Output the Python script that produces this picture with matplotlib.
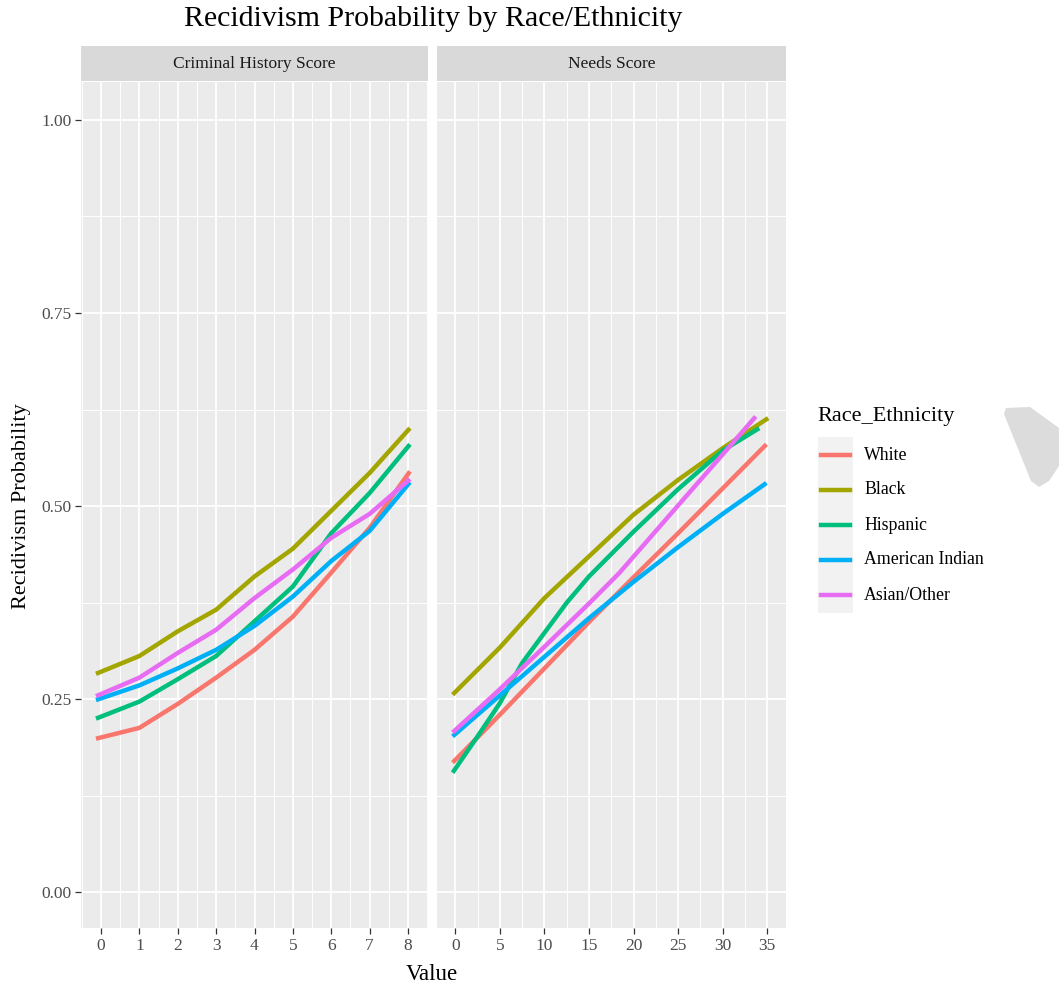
import matplotlib
matplotlib.use("Agg")
import matplotlib.pyplot as plt
from matplotlib.patches import Rectangle, Polygon
from matplotlib.lines import Line2D
from matplotlib.ticker import MultipleLocator, FormatStrFormatter

plt.rcParams['font.family'] = ['Liberation Serif', 'DejaVu Serif']

groups = ["White", "Black", "Hispanic", "American Indian", "Asian/Other"]
colors = ["#F8766D", "#A3A500", "#00BF7D", "#00B0F6", "#E76BF3"]

# criminal history score panel
crim_x = [-0.13, 1, 2, 3, 4, 5, 6, 7, 8.05]
crim_prob = {
    "White":           [0.199, 0.213, 0.244, 0.278, 0.314, 0.357, 0.414, 0.472, 0.545],
    "Black":           [0.283, 0.306, 0.338, 0.366, 0.409, 0.445, 0.494, 0.543, 0.601],
    "Hispanic":        [0.225, 0.247, 0.276, 0.306, 0.351, 0.396, 0.465, 0.517, 0.580],
    "American Indian": [0.249, 0.268, 0.290, 0.314, 0.345, 0.383, 0.429, 0.468, 0.531],
    "Asian/Other":     [0.254, 0.278, 0.310, 0.340, 0.381, 0.418, 0.459, 0.490, 0.535],
}

# needs score panel
needs_x = {
    "White":           [-0.3, 5, 10, 15, 20, 25, 30, 34.9],
    "Black":           [-0.3, 5, 10, 15, 20, 25, 30, 35.1],
    "Hispanic":        [-0.3, 2.5, 5, 7.5, 10, 12.5, 15, 20, 25, 30, 34.1],
    "American Indian": [-0.3, 5, 10, 15, 20, 25, 30, 34.9],
    "Asian/Other":     [-0.3, 5, 10, 15, 18.4, 25, 30, 33.7],
}
needs_prob = {
    "White":           [0.168, 0.230, 0.290, 0.350, 0.408, 0.465, 0.523, 0.580],
    "Black":           [0.256, 0.317, 0.381, 0.435, 0.489, 0.534, 0.575, 0.614],
    "Hispanic":        [0.155, 0.202, 0.245, 0.297, 0.336, 0.375, 0.409, 0.467, 0.522, 0.572, 0.601],
    "American Indian": [0.202, 0.255, 0.305, 0.355, 0.402, 0.447, 0.490, 0.530],
    "Asian/Other":     [0.207, 0.263, 0.318, 0.374, 0.4135, 0.501, 0.567, 0.616],
}

W, H = 1059, 991
fig = plt.figure(figsize=(W / 100, H / 100), dpi=100)


def px_axes(x0, y0, x1, y1):
    # axes from pixel box (top-left origin)
    return fig.add_axes([x0 / W, 1 - y1 / H, (x1 - x0) / W, (y1 - y0) / H])


def style_panel(ax):
    ax.set_facecolor("#EBEBEB")
    for s in ax.spines.values():
        s.set_visible(False)
    ax.set_ylim(-0.046, 1.049)
    ax.yaxis.set_major_locator(MultipleLocator(0.25))
    ax.yaxis.set_minor_locator(MultipleLocator(0.125))
    ax.grid(which="major", color="white", lw=1.3)
    ax.grid(which="minor", color="white", lw=0.7)
    ax.set_axisbelow(True)
    ax.tick_params(which="major", length=4, width=0.9, color="#333333",
                   labelcolor="#4D4D4D", labelsize=12.5, pad=3)
    ax.tick_params(which="minor", length=0)


def strip(x0, x1, label):
    s = px_axes(x0, 46, x1, 81)
    s.set_facecolor("#D9D9D9")
    s.set_xticks([])
    s.set_yticks([])
    for sp in s.spines.values():
        sp.set_visible(False)
    s.text(0.5, 0.5, label, ha="center", va="center", fontsize=12.5, color="#1A1A1A",
           transform=s.transAxes)


ax1 = px_axes(81, 82, 428, 928)
ax2 = px_axes(437, 82, 786, 928)
style_panel(ax1)
style_panel(ax2)

ax1.set_xlim(-0.52, 8.52)
ax1.xaxis.set_major_locator(MultipleLocator(1))
ax1.xaxis.set_minor_locator(MultipleLocator(0.5))
ax2.set_xlim(-2.05, 37.1)
ax2.xaxis.set_major_locator(MultipleLocator(5))
ax2.xaxis.set_minor_locator(MultipleLocator(2.5))
ax2.tick_params(axis="y", which="both", left=False, labelleft=False)
ax1.yaxis.set_major_formatter(FormatStrFormatter("%.2f"))

for g, c in zip(groups, colors):
    ax1.plot(crim_x, crim_prob[g], color=c, lw=3.2, solid_capstyle="butt")
    ax2.plot(needs_x[g], needs_prob[g], color=c, lw=3.2, solid_capstyle="butt")

strip(81, 428, "Criminal History Score")
strip(437, 786, "Needs Score")

fig.text(433 / W, 1 - 19 / H, "Recidivism Probability by Race/Ethnicity",
         ha="center", va="center", fontsize=21.5, color="black")
fig.text(432 / W, 1 - 975 / H, "Value", ha="center", va="center", fontsize=16.5)
fig.text(22 / W, 1 - 506 / H, "Recidivism Probability", ha="center", va="center",
         rotation=90, fontsize=16)

# legend drawn in figure pixel space
lg = px_axes(0, 0, W, H)
lg.set_xlim(0, W)
lg.set_ylim(H, 0)
lg.axis("off")
lg.patch.set_alpha(0)
lg.text(817, 417, "Race_Ethnicity", ha="left", va="center", fontsize=16)
lg.add_patch(Rectangle((818, 437), 35, 176, color="#F2F2F2", lw=0))
for i, (g, c) in enumerate(zip(groups, colors)):
    y = 455 + 35 * i
    lg.add_line(Line2D([821, 850], [y, y], color=c, lw=3.2))
    lg.text(864, y, g, ha="left", va="center", fontsize=12.75)

# faint grey tab at the right edge
lg.add_patch(Polygon([(1006, 408), (1030, 407), (1059, 428), (1059, 466),
                      (1049, 481), (1039, 487), (1031, 481), (1004, 414)],
                     closed=True, color="#DCDCDC", lw=0))

fig.savefig("out.png", dpi=100, facecolor="white")
